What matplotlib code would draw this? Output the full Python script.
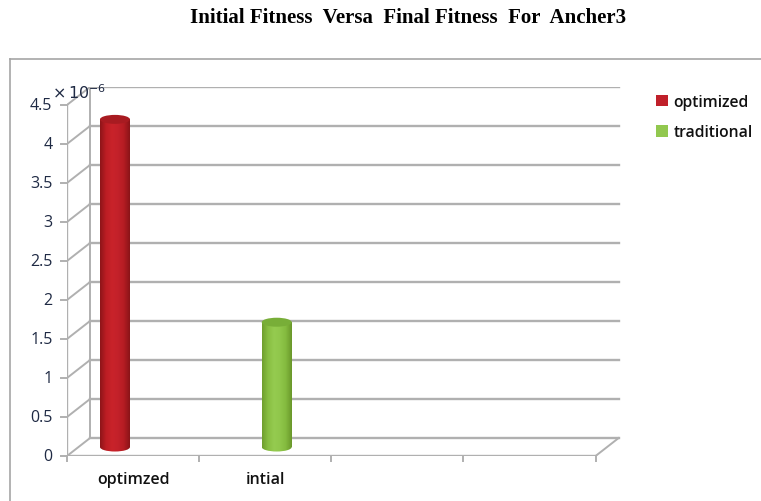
import numpy as np
import matplotlib
matplotlib.use("Agg")
import matplotlib.pyplot as plt
from matplotlib.patches import Ellipse, Patch
from matplotlib.colors import LinearSegmentedColormap

title = "Initial Fitness  Versa  Final Fitness  For  Ancher3"
categories = ["optimzed", "intial", "", ""]
series_names = ["optimized", "traditional"]
# values in units of 1e-6, one series per category slot
optimized = [4.2, 0, 0, 0]
traditional = [0, 1.6, 0, 0]
yticks = [0, 0.5, 1, 1.5, 2, 2.5, 3, 3.5, 4, 4.5]
ytick_labels = ["0", "0.5", "1", "1.5", "2", "2.5", "3", "3.5", "4", "4.5"]

# style
grid_col = "#b0b0b0"
text_col = "#1f2a44"
dx, dy = 0.174, 0.23          # depth offset of the back wall (data units)
bar_w = 0.227
offsets = [-0.224, 0.0]       # position of each series inside its slot
body = [["#8e1519", "#bd1d24", "#c9232a", "#c3212a", "#b51c23", "#8a1418"],
        ["#6f9f2e", "#88bf42", "#95cb50", "#90c74b", "#84bb3f", "#6a982b"]]
tops = ["#a81b21", "#78ae38"]
legend_cols = ["#c0202a", "#92c84f"]

fig = plt.figure(figsize=(7.61, 5.02), dpi=100)
ax = fig.add_axes([67 / 761, 1 - 457 / 502, 555 / 761, 369 / 502])
nc = len(categories)
ax.set_xlim(0, 4.2)
ax.set_ylim(0, 4.5 + dy)
ax.axis("off")

# back wall gridlines + side wall diagonals
for v, lab in zip(yticks, ytick_labels):
    ax.plot([dx, nc + dx], [v + dy, v + dy], color=grid_col, lw=1.7, zorder=1)
    ax.plot([0, dx], [v, v + dy], color=grid_col, lw=1.4, zorder=1)
    ax.plot([-0.045, 0], [v, v], color=grid_col, lw=1.4, zorder=1, clip_on=False)
    ax.text(-0.11, v, lab, ha="right", va="center",
            fontsize=11.5, color=text_col, family="Open Sans")
ax.plot([dx, dx], [dy, 4.5 + dy], color=grid_col, lw=1.4, zorder=1)
ax.plot([0, 0], [0, 4.5], color=grid_col, lw=1.7, zorder=1)
# floor
ax.plot([0, nc], [0, 0], color=grid_col, lw=1.7, zorder=1)
ax.plot([nc, nc + dx], [0, dy], color=grid_col, lw=1.4, zorder=1)
for i in range(nc + 1):
    ax.plot([i, i], [0, -0.07], color=grid_col, lw=1.4, zorder=1, clip_on=False)
for i, c in enumerate(categories):
    ax.text(i + 0.5, -0.3, c, ha="center", va="center", fontsize=11.5,
            color="#111111", family="Open Sans", fontweight="semibold")

ax.text(-0.115, 4.67, r"$\times\,10^{-6}$", ha="left", va="center",
        fontsize=11.5, color=text_col)

# cylinders
ell_h = 0.115
for s, vals in enumerate([optimized, traditional]):
    cmap = LinearSegmentedColormap.from_list("b%d" % s, body[s])
    grad = np.linspace(0, 1, 64).reshape(1, -1)
    for i, v in enumerate(vals):
        if v <= 0:
            continue
        xc = i + 0.5 + dx / 2 + offsets[s]
        y0 = dy / 2
        y1 = v + dy / 2
        ax.imshow(grad, cmap=cmap, aspect="auto", zorder=3,
                  extent=[xc - bar_w / 2, xc + bar_w / 2, y0, y1])
        bottom = Ellipse((xc, y0), bar_w, ell_h, facecolor="none",
                         edgecolor="none", zorder=3)
        ax.add_patch(bottom)
        ax.imshow(grad, cmap=cmap, aspect="auto", zorder=3,
                  extent=[xc - bar_w / 2, xc + bar_w / 2, y0 - ell_h / 2, y0],
                  clip_path=bottom)
        ax.add_patch(Ellipse((xc, y1), bar_w, ell_h, facecolor=tops[s],
                             edgecolor="none", zorder=4))
ax.set_xlim(0, 4.2)
ax.set_ylim(0, 4.5 + dy)

# legend
handles = [Patch(facecolor=legend_cols[k], edgecolor="none") for k in range(2)]
leg = fig.legend(handles, series_names, loc="upper left",
                 bbox_to_anchor=(642 / 761, 1 - 81 / 502), frameon=False,
                 handlelength=0.75, handleheight=0.75, handletextpad=0.35,
                 labelspacing=0.9, prop={"family": "Open Sans", "size": 11.3,
                                         "weight": "semibold"})
for t in leg.get_texts():
    t.set_color("#111111")

fig.text(408 / 761, 1 - 18 / 502, title, ha="center", va="center",
         fontsize=15, fontweight="bold", family="Liberation Serif")

# outer frame (top and left edges only)
fig.add_artist(plt.Line2D([10 / 761, 1], [1 - 60 / 502] * 2, color="#a5a5a5",
                          lw=1.2, transform=fig.transFigure))
fig.add_artist(plt.Line2D([10 / 761] * 2, [0, 1 - 60 / 502], color="#a5a5a5",
                          lw=1.2, transform=fig.transFigure))

fig.savefig("out.png", dpi=100)
